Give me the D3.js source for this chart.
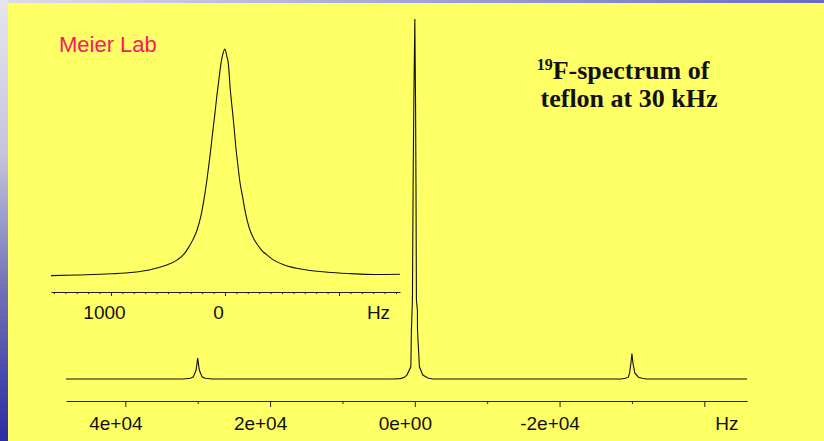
<!DOCTYPE html>
<html>
<head>
<meta charset="utf-8">
<script src="https://cdn.jsdelivr.net/npm/d3@7"></script>
<style>
  html, body { margin: 0; padding: 0; background: #ffff66; }
  svg { display: block; }
</style>
</head>
<body>
<div id="chart"></div>
<script>
let width = 824, height = 441

// DATA
// main spectrum: frequency (Hz) and intensity (peak = 100)
let mainHz = [48200, 32000, 31000, 30600, 30220, 30000, 29780, 29400, 29000, 28000,
  3000, 2000, 1500, 1100, 550, 470, 330, 235, 138, 0,
  -100, -160, -220, -360, -370, -635, -1100, -1800, -2500,
  -28500, -29100, -29500, -29670, -29860, -30000, -30140, -30410, -30900, -31400, -32000, -45900]
let mainInt = [0, 0, 0.2, 0.6, 2.5, 5.8, 2.5, 0.6, 0.2, 0,
  0, 0.1, 0.4, 1.1, 3.4, 13.6, 22, 54, 77, 100,
  77, 54, 22, 19, 13.6, 3.4, 1.1, 0.3, 0,
  0, 0.2, 0.5, 1.6, 4.4, 7.1, 4.4, 1.6, 0.5, 0.2, 0, 0]

// inset: centre band, frequency (Hz) and intensity
let insetHz = [1526, 1300, 1000, 800, 664, 530, 418, 360, 319, 280, 245, 210, 181, 160, 138, 120, 109, 90, 70, 50, 35, 15, 0,
  -15, -29, -47, -65, -82, -95, -111, -130, -155, -180, -213, -250, -290, -320, -360, -424, -520, -716, -900, -1100, -1300, -1535]
let insetInt = [0.6, 0.9, 1.4, 2.1, 3.1, 4.9, 7.5, 10, 13, 16.5, 20.6, 27, 35, 42, 50.5, 58, 63, 71, 80, 88, 93.7, 98.5, 100,
  97, 93.7, 82, 73, 64.5, 57, 50, 42, 35, 28, 21.5, 17, 13.8, 11.8, 10, 7.5, 5.3, 3.1, 2.1, 1.5, 1.1, 1.2]

// tick labels
let mainTicks = [40000, 20000, 0, -20000, -40000]
let mainTickLabels = ['4e+04', '2e+04', '0e+00', '-2e+04', 'Hz']
let mainMinor = [30000, 10000, -10000, -30000]
let insetTicks = [1000, 0, -1000]
let insetTickLabels = ['1000', '0', 'Hz']
let insetMinor = d3.range(-1500, 1501, 100).filter(v => v % 1000 !== 0)

let svg = d3.select('#chart')
  .append('svg')
  .attr('width', width)
  .attr('height', height)

// slide frame
let defs = svg.append('defs')
let gLeft = defs.append('linearGradient').attr('id', 'leftStrip')
  .attr('x1', 0).attr('y1', 0).attr('x2', 0).attr('y2', 1)
gLeft.append('stop').attr('offset', '0%').attr('stop-color', '#e6e6f0')
gLeft.append('stop').attr('offset', '35%').attr('stop-color', '#c4c4de')
gLeft.append('stop').attr('offset', '65%').attr('stop-color', '#7272b8')
gLeft.append('stop').attr('offset', '100%').attr('stop-color', '#2c2ca4')
let gTop = defs.append('linearGradient').attr('id', 'topStrip')
  .attr('x1', 0).attr('y1', 0).attr('x2', 1).attr('y2', 0)
gTop.append('stop').attr('offset', '0%').attr('stop-color', '#dcdcec')
gTop.append('stop').attr('offset', '100%').attr('stop-color', '#6a6ac4')

svg.append('rect').attr('width', width).attr('height', 3).attr('fill', 'url(#topStrip)')
svg.append('rect').attr('width', 8).attr('height', height).attr('fill', 'url(#leftStrip)')
svg.append('rect').attr('x', 8).attr('y', 3).attr('width', width - 8).attr('height', height - 3)
  .attr('fill', '#ffff66')

// SCALES
let xMain = d3.scaleLinear().domain([48200, -45900]).range([66, 747])
let yMain = d3.scaleLinear().domain([0, 100]).range([379, 19])
let xInset = d3.scaleLinear().domain([1526, -1535]).range([51, 400])
let yInset = d3.scaleLinear().domain([0, 100]).range([277, 49])

let mainData = mainHz.map((v, i) => ({ f: v, a: mainInt[i] }))
let insetData = insetHz.map((v, i) => ({ f: v, a: insetInt[i] }))

// main spectrum
svg.append('path')
  .datum(mainData)
  .attr('fill', 'none')
  .attr('stroke', '#111')
  .attr('stroke-width', 1.1)
  .attr('d', d3.line().x(d => xMain(d.f)).y(d => yMain(d.a)))

// inset spectrum
svg.append('path')
  .datum(insetData)
  .attr('fill', 'none')
  .attr('stroke', '#111')
  .attr('stroke-width', 1.1)
  .attr('d', d3.line().curve(d3.curveMonotoneX).x(d => xInset(d.f)).y(d => yInset(d.a)))

// AXES
function drawAxis (scale, y, ticks, labels, minor, major, small, labelY, dx, hzDx) {
  let g = svg.append('g').attr('transform', 'translate(0,' + y + ')')
  g.call(d3.axisBottom(scale).tickValues(minor).tickSize(small).tickSizeOuter(0).tickFormat(''))
  let m = svg.append('g').attr('transform', 'translate(0,' + y + ')')
  m.call(d3.axisBottom(scale).tickValues(ticks).tickSize(major).tickSizeOuter(0)
    .tickFormat((d, i) => labels[i]))
  m.select('.domain').remove()
  svg.selectAll('.tick line').attr('stroke', '#222')
  g.select('.domain').attr('stroke', '#222')
  m.selectAll('.tick text')
    .attr('y', labelY)
    .attr('dy', 0)
    .attr('dx', (d, i) => labels[i] === 'Hz' ? hzDx : dx)
    .attr('fill', '#111')
    .style('font-family', 'Liberation Sans, Arial, sans-serif')
    .style('font-size', '19px')
}

drawAxis(xMain, 401, mainTicks, mainTickLabels, mainMinor, 6, 3, 29, -10, 22)
drawAxis(xInset, 292, insetTicks, insetTickLabels, insetMinor, 4, 2, 27, -7, 39)

// TEXTS
svg.append('text')
  .attr('x', 59)
  .attr('y', 52)
  .text('Meier Lab')
  .attr('fill', '#ff1466')
  .style('font-family', 'Liberation Sans, Arial, sans-serif')
  .style('font-size', '22px')

let title = svg.append('text')
  .attr('text-anchor', 'middle')
  .style('font-family', 'Liberation Serif, Times New Roman, serif')
  .style('font-weight', 'bold')
  .style('font-size', '26px')
  .attr('fill', '#111')
let t1 = title.append('tspan').attr('x', 623).attr('y', 79)
t1.append('tspan').text('19').style('font-size', '16px').attr('dy', -9)
t1.append('tspan').text('F-spectrum of').attr('dy', 9)
title.append('tspan').attr('x', 629).attr('y', 107).text('teflon at 30 kHz')
</script>
</body>
</html>
